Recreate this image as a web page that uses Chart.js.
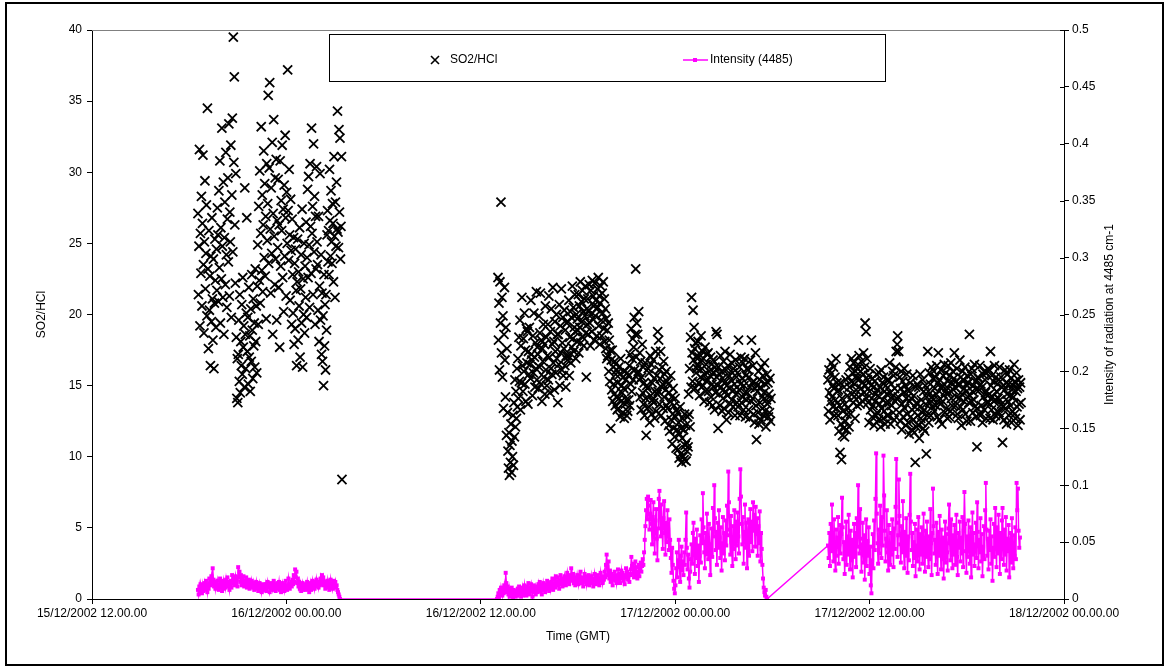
<!DOCTYPE html>
<html>
<head>
<meta charset="utf-8">
<script src="https://cdn.jsdelivr.net/npm/chart.js@4.4.0/dist/chart.umd.min.js"></script>
<style>
  html, body { margin: 0; padding: 0; background: #fff; }
  canvas { display: block; }
</style>
</head>
<body>
<canvas id="chart" width="1168" height="672"></canvas>
<script>
// x values are hours since 15/12/2002 00.00.00
const xTickValues = [12, 24, 36, 48, 60, 72];
const xTickLabels = [
  '15/12/2002 12.00.00', '16/12/2002 00.00.00', '16/12/2002 12.00.00',
  '17/12/2002 00.00.00', '17/12/2002 12.00.00', '18/12/2002 00.00.00'
];

// measurement runs: start / end time of each block of samples
const so2Spans = [[18.54, 27.43], [37.06, 53.91], [57.43, 69.35]];
const intensitySpans = [[18.54, 27.31], [37.0, 53.67], [57.43, 69.28]];

// SO2/HCl ratio
const so2Run1 = [
  27.1, 21.4, 24.8, 31.6, 19.2, 25.7, 22.9, 28.3, 20.6, 26.4, 31.2, 23.5, 18.7, 25.1, 29.4, 21.8, 24.3, 27.7, 19.9, 34.5,
  23.2, 17.6, 25.9, 20.3, 22.7, 16.4, 24.1, 19.5, 26.8, 21.1, 18.2, 23.9, 16.2, 20.8, 25.3, 22.4, 19.1, 24.6, 21.7, 27.5,
  25.6, 20.9, 28.7, 23.3, 30.8, 19.4, 26.1, 22.5, 33.1, 24.8, 21.2, 29.3, 18.6, 25.4, 27.9, 22.1, 31.4, 24.2, 20.5, 26.7,
  29.6, 23.7, 33.4, 21.3, 27.2, 25.1, 31.9, 19.8, 28.4, 33.8, 24.4, 39.5, 30.7, 36.7, 26.3, 22.2, 29.9, 18.4, 14.1, 16.9,
  13.8, 17.2, 19.6, 15.3, 21.4, 14.5, 18.1, 16.4, 20.7, 15.8, 22.6, 17.7, 19.2, 14.9, 28.9, 18.6, 16.2, 20.1, 26.8, 17.4,
  19.8, 15.1, 21.9, 17.0, 18.5, 14.6, 20.4, 16.7, 22.8, 18.9, 15.5, 21.1, 17.8, 19.4, 16.3, 23.2, 18.1, 20.6, 15.9, 22.0,
  24.9, 19.3, 27.6, 22.4, 30.1, 20.8, 25.7, 33.2, 23.1, 28.4, 21.6, 26.3, 31.5, 24.0, 29.2, 22.7, 26.9, 19.7, 30.6, 25.2,
  27.8, 35.4, 23.6, 30.3, 36.3, 26.0, 21.5, 28.9, 24.3, 32.1, 18.6, 27.1, 33.7, 25.5, 22.1, 29.6, 23.9, 30.9, 19.6, 26.6,
  24.7, 29.5, 21.9, 26.3, 17.7, 30.8, 23.4, 28.0, 25.9, 31.9, 22.6, 27.4, 20.2, 29.1, 24.1, 32.6, 26.8, 21.3, 28.6, 25.0,
  37.2, 27.3, 23.8, 30.2, 25.6, 21.0, 28.1, 24.5, 19.3, 26.7, 22.8, 20.1, 25.4, 17.9, 23.6, 19.0, 24.6, 21.7, 16.4, 22.3,
  25.3, 18.2, 23.0, 20.6, 26.1, 17.0, 21.8, 24.2, 19.4, 27.4, 16.3, 22.5, 20.0, 25.0, 18.7, 23.4, 21.2, 26.5, 19.8, 24.0,
  28.8, 22.6, 29.7, 24.9, 20.5, 30.6, 26.2, 22.9, 33.1, 25.7, 27.6, 21.4, 32.0, 24.4, 28.3, 19.3, 26.9, 23.2, 30.4, 25.1,
  23.5, 20.3, 26.9, 18.1, 22.0, 29.9, 19.6, 24.2, 17.2, 21.5, 16.7, 19.9, 15.0, 22.8, 17.8, 20.7, 16.1, 21.4, 18.9, 25.6,
  27.3, 23.7, 25.9, 22.8, 30.2, 26.6, 24.1, 28.7, 25.1, 23.6, 27.8, 26.4, 22.3, 31.1, 25.5, 21.2, 27.9, 24.8, 29.3, 26.0,
  34.3, 25.8, 24.7, 33.0, 27.2, 32.4, 23.9, 26.2, 31.1, 8.4
];
const so2Run2 = [
  22.6, 18.2, 20.8, 16.1, 22.3, 19.4, 27.9, 17.3, 21.2, 15.6, 19.9, 13.4, 18.6, 21.9, 16.8, 14.2, 19.1, 11.5, 17.6, 13.1,
  10.4, 9.2, 11.7, 8.7, 10.8, 9.6, 12.3, 8.9, 11.1, 10.0, 12.9, 9.4, 13.8, 11.4, 15.4, 12.1, 14.6, 12.7, 16.2, 13.5,
  16.9, 14.1, 18.4, 15.3, 19.6, 13.3, 17.8, 15.2, 21.2, 16.4, 14.6, 18.3, 16.0, 20.1, 15.1, 17.5, 13.9, 19.0, 16.6, 18.8,
  13.7, 17.4, 15.8, 19.1, 16.5, 15.5, 21.0, 17.2, 16.8, 14.3, 18.5, 15.9, 20.1, 17.0, 14.9, 18.0, 16.2, 21.6, 15.4, 17.7,
  17.2, 14.8, 19.9, 16.3, 18.7, 21.5, 15.1, 18.2, 13.9, 17.6, 16.7, 19.3, 15.6, 17.9, 14.4, 20.6, 16.1, 18.4, 15.0, 17.1,
  19.3, 15.4, 21.3, 17.0, 14.5, 18.8, 16.2, 20.4, 15.8, 17.9, 21.9, 16.6, 18.1, 14.7, 19.5, 17.4, 15.9, 20.0, 16.9, 18.6,
  13.8, 18.6, 16.5, 20.7, 15.0, 19.2, 17.3, 21.8, 16.1, 18.0, 19.8, 15.7, 17.6, 20.3, 16.4, 18.9, 14.9, 17.1, 19.4, 16.8,
  19.5, 17.1, 21.0, 15.7, 18.4, 20.2, 16.6, 19.8, 17.7, 22.0, 18.3, 20.5, 17.4, 19.1, 21.4, 18.8, 16.9, 20.0, 18.1, 19.7,
  18.9, 21.4, 17.3, 20.6, 19.1, 22.3, 18.0, 20.9, 19.5, 21.7, 18.4, 20.2, 17.8, 21.1, 19.9, 22.0, 18.7, 15.6, 20.4, 19.3,
  21.1, 18.6, 20.3, 22.1, 19.4, 17.8, 21.7, 20.0, 18.8, 22.4, 19.7, 21.3, 20.6, 18.2, 22.2, 19.9, 21.0, 20.4, 18.5, 21.8,
  20.5, 22.6, 19.2, 21.3, 17.9, 20.8, 22.0, 19.6, 18.5, 21.5, 20.1, 22.3, 19.0, 21.1, 18.1, 20.4, 17.6, 19.7, 16.9, 18.9,
  17.1, 19.4, 16.0, 18.2, 15.3, 17.5, 12.0, 16.8, 14.7, 17.5, 13.9, 16.3, 15.1, 14.4, 16.7, 13.6, 15.8, 14.2, 16.1, 13.3,
  15.2, 13.4, 16.3, 14.1, 15.8, 12.8, 16.9, 13.9, 15.0, 14.5, 13.1, 15.6, 14.8, 12.7, 16.0, 13.7, 15.4, 14.0, 12.9, 15.9,
  13.2, 15.7, 14.0, 16.4, 13.6, 17.2, 15.1, 19.0, 14.6, 16.9, 18.3, 15.4, 17.7, 19.8, 16.1, 18.6, 23.2, 17.0, 19.4, 15.8,
  18.6, 16.0, 20.2, 15.4, 17.3, 14.2, 16.7, 13.3, 15.6, 17.9, 14.5, 16.3, 13.7, 15.2, 12.9, 16.6, 14.1, 11.5, 15.0, 13.4,
  14.8, 16.2, 13.5, 15.9, 12.4, 17.1, 14.3, 16.5, 13.0, 15.2, 14.0, 16.8, 13.8, 15.5, 12.7, 14.6, 17.4, 13.2, 15.7, 14.4,
  18.8, 14.6, 18.2, 16.1, 13.7, 15.5, 17.4, 12.9, 14.9, 16.3, 15.1, 13.4, 16.7, 14.2, 15.8, 12.5, 14.7, 16.0, 13.6, 15.3,
  13.4, 15.1, 12.2, 14.5, 11.8, 13.9, 15.7, 12.6, 14.2, 10.9, 13.0, 14.8, 12.0, 13.6, 11.4, 14.1, 12.8, 10.6, 13.3, 11.9,
  13.1, 10.5, 12.4, 9.9, 11.6, 13.5, 10.2, 12.0, 9.6, 11.3, 12.7, 10.0, 11.9, 9.8, 13.0, 10.8, 12.2, 9.7, 11.0, 10.4,
  12.8, 10.7, 14.4, 13.0, 16.2, 12.1, 18.4, 14.9, 21.2, 17.3, 15.3, 20.3, 16.8, 19.1, 17.6, 14.8, 18.0, 15.9, 17.1, 16.2,
  16.4, 18.1, 15.2, 17.0, 14.3, 16.7, 15.6, 18.5, 14.9, 16.2, 17.4, 15.0, 16.9, 13.9, 15.8, 17.7, 14.6, 16.5, 15.3, 17.2,
  15.4, 17.3, 14.6, 16.0, 13.8, 15.7, 17.0, 14.2, 16.5, 15.1, 13.6, 16.8, 14.9, 15.9, 13.3, 16.3, 14.5, 18.8, 15.6, 18.6,
  15.0, 12.0, 16.3, 14.4, 15.8, 13.6, 17.1, 14.9, 16.0, 13.2, 15.5, 14.1, 16.7, 13.4, 15.2, 17.4, 14.6, 16.1, 12.6, 15.0,
  14.3, 16.4, 13.1, 15.7, 14.8, 17.2, 13.7, 15.4, 16.6, 14.0, 15.9, 13.5, 16.2, 14.7, 15.1, 12.9, 16.8, 14.4, 15.6, 13.8,
  15.9, 13.5, 18.2, 14.7, 16.3, 12.9, 15.1, 17.0, 13.8, 15.5, 14.2, 16.6, 13.3, 15.0, 16.9, 14.5, 12.8, 15.7, 14.0, 16.2,
  14.5, 16.1, 13.3, 15.6, 12.7, 14.9, 16.8, 13.9, 18.2, 15.2, 14.1, 16.4, 13.0, 15.3, 12.4, 14.8, 17.3, 13.6, 11.2, 15.0,
  14.6, 13.1, 16.0, 12.3, 15.4, 13.8, 14.9, 12.6, 16.3, 14.2, 13.4, 15.7, 12.9, 14.5, 16.6, 13.2, 15.1, 12.1, 14.0, 15.8,
  13.7, 15.2, 12.8, 14.4, 13.1, 15.5, 12.5, 14.1
];
const so2Run3 = [
  15.4, 13.2, 16.1, 14.5, 12.6, 15.8, 13.9, 16.6, 14.2, 15.0, 13.5, 16.3, 14.8, 12.9, 15.6, 14.0, 16.9, 13.4, 15.2, 14.6,
  12.9, 14.7, 11.8, 13.6, 10.3, 15.2, 12.3, 9.8, 14.1, 11.5, 13.2, 12.0, 14.9, 11.4, 13.7, 12.5, 15.4, 11.9, 13.0, 14.3,
  13.4, 15.6, 12.1, 14.9, 16.3, 13.0, 15.3, 16.9, 14.4, 15.9, 13.8, 16.6, 14.2, 15.1, 12.7, 16.0, 14.7, 15.5, 13.6, 16.2,
  16.5, 14.2, 17.1, 15.5, 13.7, 16.0, 14.8, 16.7, 15.2, 13.9, 15.8, 17.3, 14.5, 16.3, 19.4, 15.0, 18.8, 14.1, 16.9, 15.4,
  13.8, 15.7, 12.4, 14.6, 16.2, 13.3, 15.0, 14.1, 12.8, 15.5, 13.6, 14.9, 12.2, 15.3, 13.9, 14.4, 12.9, 15.8, 13.1, 14.7,
  14.3, 12.6, 15.9, 13.7, 14.9, 12.1, 16.1, 13.4, 15.2, 14.0, 12.7, 15.6, 13.2, 14.6, 12.3, 15.0, 13.8, 14.4, 12.9, 15.4,
  12.9, 15.4, 13.8, 16.6, 14.5, 12.3, 15.1, 13.6, 14.2, 16.0, 13.1, 15.7, 12.6, 14.8, 13.9, 16.3, 17.4, 14.1, 17.9, 18.5,
  14.2, 17.4, 13.1, 15.6, 12.5, 14.8, 16.0, 11.9, 13.7, 15.3, 12.8, 14.5, 16.2, 13.4, 15.0, 12.2, 14.1, 15.8, 13.0, 14.7,
  12.4, 14.6, 11.6, 13.9, 15.2, 12.8, 14.1, 11.9, 13.3, 15.7, 12.6, 14.3, 11.7, 13.5, 9.6, 14.9, 12.1, 13.8, 15.1, 12.9,
  12.2, 14.9, 11.3, 13.5, 15.8, 12.7, 14.0, 12.4, 13.1, 15.4, 12.0, 14.6, 13.3, 11.8, 15.0, 13.7, 10.2, 14.2, 12.9, 17.4,
  14.6, 12.4, 15.9, 13.8, 15.1, 12.9, 16.3, 14.2, 13.5, 15.5, 14.0, 16.0, 13.2, 14.8, 15.6, 13.6, 14.4, 16.4, 12.8, 15.2,
  17.3, 14.0, 12.6, 15.4, 13.7, 16.1, 14.8, 12.3, 15.0, 13.9, 15.7, 14.3, 16.5, 13.1, 14.6, 15.9, 13.4, 14.9, 12.7, 15.3,
  16.4, 14.5, 12.8, 15.7, 13.2, 16.6, 14.1, 15.2, 13.6, 16.0, 14.7, 15.5, 17.3, 14.9, 13.6, 15.3, 14.2, 16.2, 13.0, 15.1,
  12.7, 15.0, 14.1, 16.8, 13.5, 15.6, 12.2, 14.4, 16.0, 13.3, 15.4, 13.9, 14.8, 16.3, 13.0, 15.1, 14.6, 12.5, 15.7, 14.2,
  15.2, 13.8, 18.6, 14.3, 12.5, 15.8, 13.9, 16.2, 14.6, 13.1, 15.0, 14.0, 16.5, 13.5, 15.3, 12.8, 14.7, 10.7, 13.4, 15.6,
  15.5, 13.0, 14.7, 16.4, 12.9, 15.1, 13.6, 14.9, 12.4, 15.8, 14.2, 16.0, 13.3, 15.4, 14.5, 12.7, 15.9, 13.8, 14.3, 16.2,
  13.8, 16.1, 14.4, 12.7, 17.4, 15.0, 13.3, 15.7, 14.2, 12.6, 15.3, 13.9, 16.4, 14.0, 12.9, 15.6, 14.6, 13.2, 15.1, 14.1,
  15.4, 13.1, 16.3, 14.0, 12.8, 15.6, 13.7, 14.9, 11.0, 13.5, 15.0, 12.6, 14.7, 16.1, 13.4, 15.2, 12.3, 14.4, 15.8, 13.9,
  15.1, 12.9, 16.1, 14.3, 13.6, 15.5, 12.4, 14.7, 13.2, 15.0, 14.2, 16.5, 13.0, 15.3, 12.7, 14.6, 15.9, 13.5, 14.8, 12.2,
  15.4, 13.7, 14.9, 12.6, 15.2, 13.8
];

// intensity at 4485 cm-1
const intensityRun1 = [
  0.008, 0.004, 0.011, 0.006, 0.013, 0.009, 0.005, 0.012, 0.007, 0.010, 0.014, 0.008, 0.016, 0.011, 0.006, 0.013, 0.009, 0.018, 0.012, 0.015,
  0.020, 0.013, 0.027, 0.017, 0.011, 0.015, 0.009, 0.014, 0.010, 0.016, 0.012, 0.008, 0.013, 0.018, 0.010, 0.015, 0.007, 0.012, 0.016, 0.009,
  0.014, 0.010, 0.017, 0.012, 0.019, 0.011, 0.015, 0.008, 0.013, 0.016, 0.010, 0.021, 0.014, 0.018, 0.012, 0.016, 0.020, 0.013, 0.017, 0.011,
  0.028, 0.019, 0.024, 0.015, 0.021, 0.012, 0.018, 0.014, 0.020, 0.011, 0.016, 0.013, 0.019, 0.010, 0.015, 0.012, 0.017, 0.009, 0.014, 0.011,
  0.016, 0.012, 0.010, 0.014, 0.008, 0.013, 0.011, 0.015, 0.009, 0.012, 0.007, 0.011, 0.014, 0.009, 0.012, 0.006, 0.010, 0.013, 0.008, 0.011,
  0.009, 0.013, 0.007, 0.011, 0.015, 0.010, 0.012, 0.006, 0.009, 0.014, 0.011, 0.008, 0.012, 0.016, 0.010, 0.013, 0.007, 0.011, 0.009, 0.014,
  0.010, 0.015, 0.008, 0.012, 0.006, 0.011, 0.014, 0.009, 0.013, 0.007, 0.010, 0.016, 0.012, 0.008, 0.011, 0.018, 0.013, 0.009, 0.012, 0.015,
  0.011, 0.017, 0.013, 0.021, 0.015, 0.026, 0.019, 0.024, 0.014, 0.018, 0.011, 0.015, 0.009, 0.013, 0.007, 0.011, 0.014, 0.008, 0.012, 0.010,
  0.013, 0.008, 0.011, 0.015, 0.009, 0.012, 0.006, 0.010, 0.014, 0.008, 0.012, 0.016, 0.010, 0.013, 0.009, 0.015, 0.011, 0.017, 0.012, 0.014,
  0.010, 0.015, 0.012, 0.018, 0.013, 0.021, 0.016, 0.019, 0.012, 0.015, 0.009, 0.013, 0.011, 0.016, 0.010, 0.014, 0.008, 0.012, 0.017, 0.011,
  0.014, 0.009, 0.013, 0.016, 0.011, 0.015, 0.010, 0.012, 0.008, 0.006, 0.004, 0.002, 0
];
const intensityRun2 = [
  0, 0.002, 0.005, 0.001, 0.008, 0.004, 0.010, 0.006, 0.003, 0.009, 0.005, 0.012, 0.007, 0.023, 0.014, 0.006, 0.011, 0.004, 0.009, 0.002,
  0.007, 0.003, 0.010, 0.005, 0.001, 0.008, 0.004, 0.006, 0.002, 0.007, 0.003, 0.009, 0.005, 0.011, 0.004, 0.008, 0.002, 0.006, 0.010, 0.003,
  0.007, 0.012, 0.005, 0.009, 0.003, 0.011, 0.006, 0.014, 0.008, 0.004, 0.010, 0.013, 0.007, 0.002, 0.009, 0.012, 0.006, 0.010, 0.004, 0.008,
  0.011, 0.006, 0.013, 0.009, 0.015, 0.007, 0.012, 0.004, 0.010, 0.014, 0.008, 0.011, 0.006, 0.013, 0.009, 0.016, 0.010, 0.012, 0.007, 0.014,
  0.009, 0.015, 0.011, 0.018, 0.008, 0.013, 0.017, 0.010, 0.020, 0.014, 0.012, 0.019, 0.015, 0.009, 0.016, 0.021, 0.013, 0.018, 0.011, 0.017,
  0.014, 0.020, 0.016, 0.012, 0.019, 0.023, 0.015, 0.018, 0.013, 0.021, 0.017, 0.027, 0.020, 0.016, 0.022, 0.014, 0.019, 0.012, 0.018, 0.015,
  0.021, 0.017, 0.013, 0.020, 0.016, 0.024, 0.018, 0.014, 0.019, 0.011, 0.017, 0.022, 0.015, 0.020, 0.013, 0.018, 0.016, 0.021, 0.012, 0.019,
  0.015, 0.020, 0.014, 0.018, 0.011, 0.017, 0.022, 0.016, 0.013, 0.019, 0.015, 0.021, 0.017, 0.012, 0.018, 0.023, 0.016, 0.020, 0.014, 0.019,
  0.017, 0.024, 0.019, 0.030, 0.039, 0.028, 0.021, 0.033, 0.018, 0.025, 0.015, 0.022, 0.019, 0.012, 0.020, 0.017, 0.024, 0.016, 0.021, 0.014,
  0.019, 0.026, 0.017, 0.022, 0.014, 0.020, 0.025, 0.018, 0.023, 0.016, 0.021, 0.013, 0.019, 0.027, 0.020, 0.024, 0.017, 0.022, 0.015, 0.021,
  0.026, 0.037, 0.029, 0.022, 0.031, 0.019, 0.025, 0.033, 0.021, 0.028, 0.018, 0.024, 0.030, 0.020, 0.027, 0.032, 0.024, 0.029, 0.035, 0.030,
  0.041, 0.052, 0.064, 0.078, 0.088, 0.070, 0.090, 0.082, 0.061, 0.075, 0.087, 0.066, 0.048, 0.072, 0.085, 0.058, 0.040, 0.069, 0.079, 0.053,
  0.034, 0.062, 0.088, 0.095, 0.076, 0.055, 0.083, 0.064, 0.044, 0.071, 0.086, 0.058, 0.039, 0.067, 0.050, 0.078, 0.061, 0.043, 0.070, 0.052,
  0.036, 0.023, 0.045, 0.030, 0.016, 0.009, 0.005, 0.012, 0.027, 0.041, 0.019, 0.034, 0.052, 0.028, 0.015, 0.038, 0.046, 0.025, 0.033, 0.021,
  0.041, 0.030, 0.052, 0.076, 0.045, 0.026, 0.039, 0.018, 0.010, 0.024, 0.035, 0.048, 0.031, 0.058, 0.067, 0.043, 0.022, 0.053, 0.036, 0.061,
  0.029, 0.047, 0.015, 0.038, 0.056, 0.032, 0.070, 0.049, 0.093, 0.063, 0.041, 0.027, 0.058, 0.039, 0.075, 0.052, 0.035, 0.066, 0.044, 0.021,
  0.048, 0.062, 0.037, 0.080, 0.055, 0.100, 0.071, 0.043, 0.059, 0.030, 0.067, 0.045, 0.078, 0.054, 0.036, 0.063, 0.025, 0.049, 0.072, 0.040,
  0.058, 0.034, 0.069, 0.047, 0.082, 0.056, 0.112, 0.085, 0.061, 0.039, 0.073, 0.050, 0.029, 0.064, 0.044, 0.078, 0.053, 0.035, 0.068, 0.047,
  0.076, 0.055, 0.040, 0.088, 0.114, 0.090, 0.066, 0.048, 0.072, 0.031, 0.059, 0.083, 0.045, 0.067, 0.027, 0.054, 0.070, 0.038, 0.062, 0.079,
  0.050, 0.068, 0.042, 0.085, 0.060, 0.074, 0.046, 0.081, 0.057, 0.071, 0.038, 0.064, 0.049, 0.077, 0.033, 0.058, 0.044, 0.030, 0.018, 0.010,
  0.006, 0.003, 0.008, 0.002, 0
];
const intensityRun3 = [
  0.047, 0.036, 0.058, 0.029, 0.066, 0.042, 0.083, 0.051, 0.033, 0.070, 0.045, 0.025, 0.061, 0.038, 0.054, 0.072, 0.031, 0.048, 0.065, 0.040,
  0.057, 0.089, 0.063, 0.035, 0.050, 0.022, 0.044, 0.068, 0.030, 0.055, 0.039, 0.074, 0.047, 0.026, 0.060, 0.034, 0.052, 0.019, 0.043, 0.066,
  0.037, 0.058, 0.028, 0.071, 0.046, 0.100, 0.062, 0.040, 0.079, 0.053, 0.024, 0.048, 0.067, 0.032, 0.056, 0.017, 0.044, 0.070, 0.029, 0.051,
  0.038, 0.063, 0.022, 0.046, 0.012, 0.005, 0.034, 0.057, 0.027, 0.069, 0.043, 0.088, 0.128, 0.075, 0.049, 0.031, 0.061, 0.040, 0.082, 0.055,
  0.036, 0.072, 0.047, 0.126, 0.091, 0.060, 0.033, 0.053, 0.078, 0.041, 0.025, 0.065, 0.045, 0.030, 0.058, 0.039, 0.070, 0.050, 0.028, 0.062,
  0.044, 0.081, 0.123, 0.067, 0.037, 0.056, 0.105, 0.073, 0.048, 0.032, 0.064, 0.041, 0.086, 0.052, 0.027, 0.059, 0.038, 0.071, 0.046, 0.023,
  0.055, 0.034, 0.074, 0.110, 0.068, 0.043, 0.058, 0.029, 0.050, 0.036, 0.066, 0.020, 0.047, 0.061, 0.033, 0.072, 0.044, 0.026, 0.057, 0.039,
  0.063, 0.031, 0.052, 0.075, 0.042, 0.024, 0.060, 0.037, 0.068, 0.046, 0.028, 0.055, 0.035, 0.079, 0.049, 0.021, 0.058, 0.097, 0.064, 0.040,
  0.052, 0.030, 0.067, 0.045, 0.022, 0.059, 0.038, 0.073, 0.047, 0.026, 0.061, 0.035, 0.054, 0.018, 0.044, 0.068, 0.032, 0.057, 0.041, 0.025,
  0.062, 0.083, 0.049, 0.034, 0.070, 0.043, 0.027, 0.056, 0.039, 0.065, 0.030, 0.051, 0.074, 0.037, 0.021, 0.058, 0.045, 0.068, 0.033, 0.054,
  0.040, 0.072, 0.028, 0.060, 0.094, 0.066, 0.042, 0.023, 0.055, 0.037, 0.069, 0.047, 0.031, 0.063, 0.019, 0.050, 0.076, 0.039, 0.058, 0.029,
  0.048, 0.067, 0.036, 0.085, 0.059, 0.027, 0.052, 0.041, 0.071, 0.033, 0.057, 0.020, 0.046, 0.064, 0.035, 0.078, 0.102, 0.061, 0.038, 0.053,
  0.026, 0.060, 0.043, 0.070, 0.031, 0.055, 0.016, 0.045, 0.066, 0.037, 0.080, 0.052, 0.028, 0.063, 0.040, 0.074, 0.049, 0.022, 0.058, 0.035,
  0.069, 0.080, 0.047, 0.030, 0.061, 0.039, 0.072, 0.025, 0.053, 0.042, 0.065, 0.019, 0.048, 0.058, 0.032, 0.071, 0.044, 0.027, 0.056, 0.038,
  0.063, 0.035, 0.102, 0.078, 0.097, 0.060, 0.045, 0.054
];

// samples in a run are evenly spaced between its start and end time
function toPoints(values, span) {
  const [t0, t1] = span;
  const n = values.length;
  return values.map((v, i) => ({ x: t0 + (t1 - t0) * i / (n - 1), y: v }));
}

const so2Points = [so2Run1, so2Run2, so2Run3]
  .flatMap((run, i) => toPoints(run, so2Spans[i]));
const intensityPoints = [intensityRun1, intensityRun2, intensityRun3]
  .flatMap((run, i) => toPoints(run, intensitySpans[i]));

const FONT = "'Liberation Sans', Arial, sans-serif";
Chart.defaults.font.family = FONT;
Chart.defaults.font.size = 12;
Chart.defaults.color = '#000';

const excelFrame = {
  id: 'excelFrame',
  beforeDraw(chart) {
    const ctx = chart.ctx;
    ctx.save();
    ctx.fillStyle = '#fff';
    ctx.fillRect(0, 0, chart.width, chart.height);
    ctx.restore();
  },
  beforeDatasetsDraw(chart) {
    const { ctx, chartArea: a } = chart;
    ctx.save();
    ctx.strokeStyle = '#808080';
    ctx.lineWidth = 1;
    ctx.beginPath();
    ctx.moveTo(a.left, a.top + 0.5);
    ctx.lineTo(a.right, a.top + 0.5);
    ctx.stroke();
    ctx.restore();
  },
  afterDraw(chart) {
    const { ctx, chartArea: a } = chart;
    const yr = chart.scales.yRight;
    ctx.save();

    // inner half of the right axis tick marks
    ctx.strokeStyle = '#000';
    ctx.lineWidth = 1;
    yr.ticks.forEach(t => {
      const py = Math.round(yr.getPixelForValue(t.value)) + 0.5;
      ctx.beginPath();
      ctx.moveTo(a.right - 4, py);
      ctx.lineTo(a.right, py);
      ctx.stroke();
    });

    // legend box
    const lx = 329, ly = 34, lw = 556, lh = 47;
    ctx.fillStyle = '#fff';
    ctx.fillRect(lx, ly, lw, lh);
    ctx.strokeStyle = '#000';
    ctx.strokeRect(lx + 0.5, ly + 0.5, lw, lh);

    const my = 60;
    ctx.lineWidth = 1.6;
    ctx.beginPath();
    ctx.moveTo(431, my - 4); ctx.lineTo(439, my + 4);
    ctx.moveTo(439, my - 4); ctx.lineTo(431, my + 4);
    ctx.stroke();

    ctx.strokeStyle = '#ff00ff';
    ctx.lineWidth = 1.5;
    ctx.beginPath();
    ctx.moveTo(683, my); ctx.lineTo(708, my);
    ctx.stroke();
    ctx.fillStyle = '#ff00ff';
    ctx.fillRect(693, my - 2, 4, 4);

    ctx.fillStyle = '#000';
    ctx.font = '12px ' + FONT;
    ctx.textBaseline = 'middle';
    ctx.textAlign = 'left';
    ctx.fillText('SO2/HCl', 450, my);
    ctx.fillText('Intensity (4485)', 710, my);

    // right axis title reads bottom-to-top, like the left one
    ctx.translate(1110, (a.top + a.bottom) / 2);
    ctx.rotate(-Math.PI / 2);
    ctx.textAlign = 'center';
    ctx.fillText('Intensity of radiation at 4485 cm-1', 0, 0);
    ctx.setTransform(1, 0, 0, 1, 0, 0);

    // outer chart border
    ctx.strokeStyle = '#000';
    ctx.lineWidth = 2;
    ctx.strokeRect(6, 3, 1157, 662);
    ctx.restore();
  }
};

new Chart(document.getElementById('chart'), {
  type: 'scatter',
  data: {
    datasets: [
      {
        label: 'SO2/HCl',
        data: so2Points,
        yAxisID: 'y',
        showLine: false,
        pointStyle: 'crossRot',
        pointRadius: 6.4,
        pointBorderWidth: 1.8,
        borderColor: '#000',
        backgroundColor: '#000',
        order: 1
      },
      {
        label: 'Intensity (4485)',
        data: intensityPoints,
        yAxisID: 'yRight',
        showLine: true,
        borderColor: '#ff00ff',
        borderWidth: 1.5,
        pointStyle: 'rect',
        pointRadius: 2.8,
        pointBorderWidth: 0,
        pointBackgroundColor: '#ff00ff',
        backgroundColor: '#ff00ff',
        order: 0
      }
    ]
  },
  options: {
    responsive: false,
    animation: false,
    devicePixelRatio: 1,
    layout: { padding: { left: 30, right: 0, top: 30, bottom: 24 } },
    plugins: {
      legend: { display: false },
      tooltip: { enabled: false }
    },
    scales: {
      x: {
        type: 'linear',
        min: 12,
        max: 72,
        afterBuildTicks: s => { s.ticks = xTickValues.map(v => ({ value: v })); },
        afterFit: s => { s.height = 49; },
        ticks: {
          autoSkip: false,
          maxRotation: 0,
          padding: 2,
          callback: v => xTickLabels[xTickValues.indexOf(v)]
        },
        grid: { drawOnChartArea: false, tickLength: 5, color: '#000' },
        border: { color: '#000', width: 1 },
        title: { display: true, text: 'Time (GMT)' }
      },
      y: {
        position: 'left',
        min: 0,
        max: 40,
        afterFit: s => { s.width = 62; },
        ticks: { stepSize: 5, padding: 5 },
        grid: { drawOnChartArea: false, tickLength: 5, color: '#000' },
        border: { color: '#000', width: 1 },
        title: { display: true, text: 'SO2/HCl' }
      },
      yRight: {
        position: 'right',
        min: 0,
        max: 0.5,
        afterFit: s => { s.width = 104; },
        ticks: {
          stepSize: 0.05,
          padding: 3,
          callback: v => String(parseFloat(v.toFixed(2)))
        },
        grid: { drawOnChartArea: false, tickLength: 5, color: '#000' },
        border: { color: '#000', width: 1 }
      }
    }
  },
  plugins: [excelFrame]
});
</script>
</body>
</html>
